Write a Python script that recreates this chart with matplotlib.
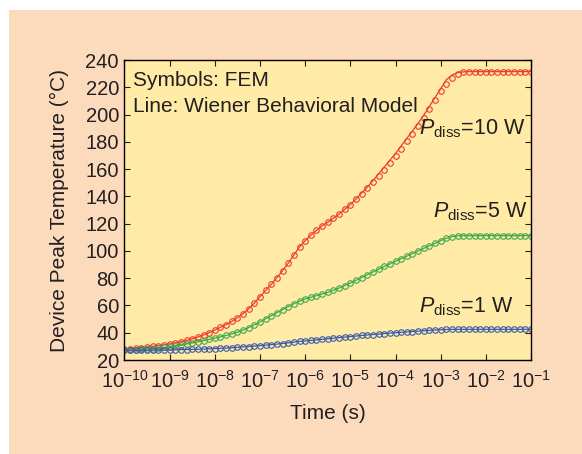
import numpy as np
import matplotlib
matplotlib.use('Agg')
import matplotlib.pyplot as plt
from matplotlib.patches import Rectangle

plt.rcParams['font.family'] = ['Liberation Sans', 'DejaVu Sans']
plt.rcParams['mathtext.fontset'] = 'custom'
plt.rcParams['mathtext.rm'] = 'Liberation Sans'
plt.rcParams['mathtext.it'] = 'Liberation Sans:italic'
plt.rcParams['mathtext.bf'] = 'Liberation Sans:bold'

# time grid of the FEM samples, 8 per decade from 1e-10 to 1e-1 s
log_t_start, log_t_stop, n_points = -10, -1, 73
time = np.logspace(log_t_start, log_t_stop, n_points)

# FEM peak temperature (degC), Pdiss = 10 W
fem_10w = [28.0, 28.3, 28.7, 29.1, 29.6, 30.1, 30.6, 31.2, 31.8, 32.6,
           33.4, 34.4, 35.6, 36.9, 38.4, 40.1, 42.0, 44.0, 46.0, 48.3,
           51.0, 54.0, 57.6, 61.8, 66.5, 71.0, 75.5, 80.5, 85.5, 91.0,
           97.0, 103.0, 107.5, 111.5, 115.0, 118.5, 121.0, 124.0, 127.0, 130.5,
           134.0, 138.0, 142.0, 146.0, 150.5, 155.0, 159.5, 164.5, 169.5, 175.0,
           180.5, 186.0, 191.5, 197.5, 204.0, 210.5, 217.0, 222.5, 226.5, 229.5,
           231.0, 231.5, 231.5, 231.5, 231.5, 231.5, 231.5, 231.5, 231.5, 231.5,
           231.5, 231.5, 231.5]

# Wiener behavioral model, Pdiss = 10 W
model_10w = [28.0, 28.3, 28.7, 29.1, 29.6, 30.1, 30.6, 31.2, 31.8, 32.6,
             33.4, 34.4, 35.6, 36.9, 38.4, 40.1, 42.0, 44.0, 46.0, 48.3,
             51.0, 54.0, 57.6, 61.8, 66.5, 71.0, 75.5, 80.5, 85.5, 91.0,
             97.0, 103.0, 107.5, 111.5, 115.0, 118.5, 121.0, 124.0, 127.0, 130.5,
             134.0, 138.0, 142.5, 146.8, 151.5, 156.5, 161.5, 166.5, 171.5, 177.0,
             182.5, 188.0, 193.5, 199.5, 206.0, 212.5, 219.0, 225.5, 229.0, 230.8,
             231.3, 231.5, 231.5, 231.5, 231.5, 231.5, 231.5, 231.5, 231.5, 231.5,
             231.5, 231.5, 231.5]

# FEM peak temperature (degC), Pdiss = 5 W
fem_5w = [27.3, 27.4, 27.6, 27.8, 28.1, 28.4, 28.8, 29.2, 29.7, 30.3,
          31.0, 31.7, 32.5, 33.3, 34.2, 35.1, 36.0, 37.0, 38.0, 39.2,
          40.5, 42.0, 43.8, 45.8, 48.0, 50.3, 52.5, 54.8, 57.0, 59.2,
          61.3, 63.2, 64.8, 66.0, 67.2, 68.4, 69.6, 71.2, 72.8, 74.6,
          76.5, 78.5, 80.5, 82.6, 84.6, 86.6, 88.6, 90.5, 92.4, 94.3,
          96.2, 98.1, 100.0, 101.9, 103.8, 105.6, 107.6, 109.3, 110.5, 111.0,
          111.2, 111.2, 111.2, 111.2, 111.2, 111.2, 111.2, 111.2, 111.2, 111.2,
          111.2, 111.2, 111.2]

# FEM peak temperature (degC), Pdiss = 1 W
fem_1w = [27.0, 27.0, 27.0, 27.1, 27.1, 27.2, 27.2, 27.3, 27.4, 27.5,
          27.6, 27.7, 27.8, 27.9, 28.0, 28.2, 28.4, 28.6, 28.8, 29.0,
          29.3, 29.6, 29.9, 30.2, 30.5, 30.9, 31.3, 31.7, 32.1, 32.6,
          33.1, 33.6, 34.0, 34.4, 34.8, 35.2, 35.6, 36.0, 36.4, 36.8,
          37.2, 37.6, 38.0, 38.4, 38.7, 39.0, 39.4, 39.7, 40.0, 40.3,
          40.6, 40.9, 41.2, 41.5, 41.8, 42.0, 42.2, 42.4, 42.5, 42.5,
          42.5, 42.5, 42.5, 42.5, 42.5, 42.5, 42.5, 42.5, 42.5, 42.5,
          42.5, 42.5, 42.5]

text_col = '#231F20'
red, green, blue = '#EE3B2F', '#3DAA49', '#3B5BA9'

fig = plt.figure(figsize=(5.82, 4.54), dpi=100, facecolor='white')
# peach panel behind the plot
fig.patches.append(Rectangle((9 / 582, 0), 1, 444 / 454, transform=fig.transFigure,
                             facecolor='#FCDBBC', edgecolor='none', zorder=-10))

ax = fig.add_axes([0.2139, 0.2070, 0.6985, 0.6608])
ax.set_facecolor('#FFEAA6')

series = [(fem_10w, model_10w, red), (fem_5w, fem_5w, green), (fem_1w, fem_1w, blue)]
for fem, model, col in series:
    ax.plot(time, model, color=col, lw=0.9)
    ax.plot(time, fem, ls='none', marker='o', ms=4.0, mfc='none', mec=col, mew=0.8)

ax.set_xscale('log')
ax.set_xlim(1e-10, 1e-1)
ax.set_ylim(20, 240)
ax.set_xticks(10.0 ** np.arange(-10, 0))
ax.set_yticks(np.arange(20, 241, 20))

ax.tick_params(which='both', direction='in', top=True, right=True,
               labelsize=14.5, colors=text_col)
ax.tick_params(axis='x', pad=7)
ax.tick_params(axis='y', pad=4)
ax.tick_params(which='major', length=4, width=0.8)
ax.tick_params(which='minor', length=2, width=0.6)
for s in ax.spines.values():
    s.set_color('black')
    s.set_linewidth(1.0)

ax.set_xlabel('Time (s)', fontsize=15, color=text_col, labelpad=9)
ax.set_ylabel('Device Peak Temperature (°C)', fontsize=15, color=text_col, labelpad=12)

ax.text(0.02, 0.932, 'Symbols: FEM', transform=ax.transAxes, fontsize=15,
        color=text_col, va='center', ha='left')
ax.text(0.02, 0.846, 'Line: Wiener Behavioral Model', transform=ax.transAxes, fontsize=15,
        color=text_col, va='center', ha='left')

ax.text(10 ** -1.13, 190, r'$P_{\mathrm{diss}}$=10 W', fontsize=15.5, color=text_col,
        ha='right', va='center')
ax.text(10 ** -1.09, 128.5, r'$P_{\mathrm{diss}}$=5 W', fontsize=15.5, color=text_col,
        ha='right', va='center')
ax.text(10 ** -1.38, 59, r'$P_{\mathrm{diss}}$=1 W', fontsize=15.5, color=text_col,
        ha='right', va='center')

fig.savefig('out.png', dpi=100, facecolor=fig.get_facecolor())
